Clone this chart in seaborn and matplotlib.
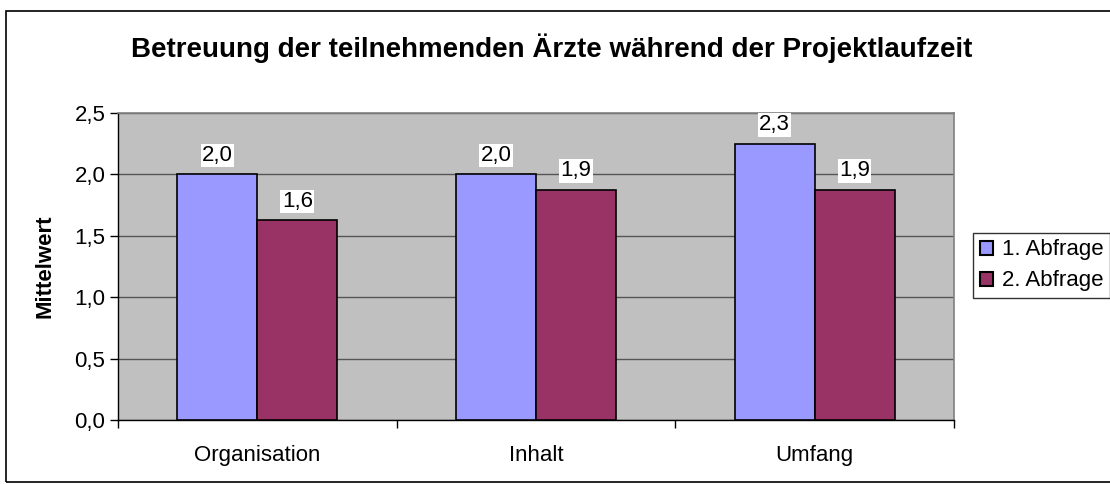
import matplotlib
matplotlib.use("Agg")
import matplotlib.pyplot as plt
import seaborn as sns
import pandas as pd
from decimal import Decimal, ROUND_HALF_UP
from matplotlib.patches import Rectangle

categories = ["Organisation", "Inhalt", "Umfang"]
series = ["1. Abfrage", "2. Abfrage"]
values_1 = [2.0, 2.0, 2.25]
values_2 = [1.625, 1.875, 1.875]
y_ticks = [0.0, 0.5, 1.0, 1.5, 2.0, 2.5]

colors = ["#9999FF", "#993366"]

df = pd.DataFrame({
    "Kategorie": categories * 2,
    "Abfrage": [series[0]] * 3 + [series[1]] * 3,
    "Mittelwert": values_1 + values_2,
})

sns.set_theme(style="white")
plt.rcParams["font.family"] = ["Liberation Sans", "DejaVu Sans"]
plt.rcParams["text.color"] = "black"
plt.rcParams["axes.labelcolor"] = "black"
plt.rcParams["xtick.color"] = "black"
plt.rcParams["ytick.color"] = "black"

fig = plt.figure(figsize=(11.1, 4.84), dpi=100)
ax = fig.add_axes([0.1063, 0.1322, 0.7532, 0.6343])

sns.barplot(data=df, x="Kategorie", y="Mittelwert", hue="Abfrage",
            palette=colors, width=0.574, edgecolor="black", linewidth=1.2,
            saturation=1, errorbar=None, ax=ax, zorder=3)

ax.set_facecolor("#C0C0C0")
ax.set_ylim(0, 2.5)
ax.set_xlim(-0.5, 2.5)
ax.set_yticks(y_ticks)
ax.set_yticklabels([f"{t:.1f}".replace(".", ",") for t in y_ticks], fontsize=16)
ax.yaxis.grid(True, color="#555555", linewidth=1.0, zorder=0)
ax.set_axisbelow(True)

ax.set_xticks(range(len(categories)))
ax.set_xticklabels(categories, fontsize=16)
ax.set_xticks([-0.5, 0.5, 1.5, 2.5], minor=True)
ax.tick_params(axis="x", which="major", length=0, pad=18)
ax.tick_params(axis="x", which="minor", length=6, width=1, color="black", direction="out", bottom=True)
ax.tick_params(axis="y", length=6, width=1, color="black", direction="out", left=True, pad=3)

for side in ["top", "right"]:
    ax.spines[side].set_color("#808080")
    ax.spines[side].set_linewidth(1.2)
for side in ["left", "bottom"]:
    ax.spines[side].set_color("black")
    ax.spines[side].set_linewidth(1.0)

ax.set_xlabel("")
ax.set_ylabel("Mittelwert", fontsize=16, fontweight="bold", labelpad=14)


def fmt(v):
    d = Decimal(str(v)).quantize(Decimal("0.1"), rounding=ROUND_HALF_UP)
    return str(d).replace(".", ",")


for container in ax.containers:
    labels = [fmt(b.get_height()) for b in container]
    ax.bar_label(container, labels=labels, padding=6, fontsize=16,
                 bbox=dict(facecolor="white", edgecolor="none", pad=1.0))

ax.legend_.remove()
handles = [Rectangle((0, 0), 1, 1, facecolor=c, edgecolor="black", linewidth=1.5) for c in colors]
leg = fig.legend(handles, series, loc="upper left", bbox_to_anchor=(0.8766, 0.519),
                 fontsize=16, frameon=True, fancybox=False, edgecolor="black",
                 handlelength=0.6, handleheight=0.6, handletextpad=0.4,
                 borderpad=0.3, labelspacing=0.45, borderaxespad=0)
leg.get_frame().set_linewidth(1.0)

fig.text(0.497, 0.90, "Betreuung der teilnehmenden Ärzte während der Projektlaufzeit",
         ha="center", va="center", fontsize=20, fontweight="bold")

fig.patches.append(Rectangle((0.0055, 0.004), 1.2, 0.973, transform=fig.transFigure,
                             fill=False, edgecolor="black", linewidth=1.2))

fig.savefig("out.png", dpi=100)
